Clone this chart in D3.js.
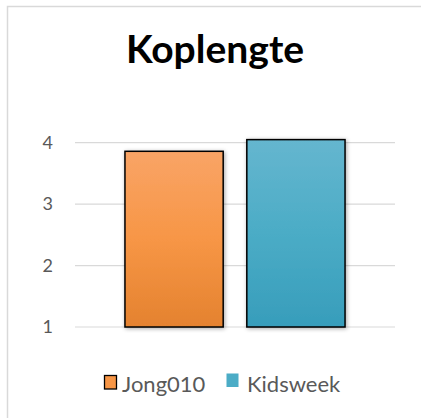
<!DOCTYPE html>
<html>
<head>
<meta charset="utf-8">
<script src="https://cdn.jsdelivr.net/npm/d3@7"></script>
<style>
  body { margin: 0; background: #fff; }
  svg { display: block; font-family: Lato, "Open Sans", sans-serif; }
</style>
</head>
<body>
<svg width="421" height="418"></svg>
<script>
// Chart data
const categories = ["Jong010", "Kidsweek"];
const values = [3.86, 4.05];
const yTicks = [1, 2, 3, 4];

const palette = [
  { top: "#f9a466", mid: "#f79646", bottom: "#e4822f" },
  { top: "#65b6cf", mid: "#4bacc6", bottom: "#379dbb" }
];

let svg = d3.select("svg");

// Chart area border (light gray, only top and left visible)
svg.append("rect")
  .attr("x", 7.5)
  .attr("y", 6.5)
  .attr("width", 440)
  .attr("height", 440)
  .attr("fill", "#fff")
  .attr("stroke", "#d9d9d9")
  .attr("stroke-width", 1.5);

let defs = svg.append("defs");

palette.forEach((p, i) => {
  let g = defs.append("linearGradient")
    .attr("id", "grad" + i)
    .attr("x1", 0).attr("y1", 0)
    .attr("x2", 0).attr("y2", 1);
  g.append("stop").attr("offset", "0%").attr("stop-color", p.top);
  g.append("stop").attr("offset", "50%").attr("stop-color", p.mid);
  g.append("stop").attr("offset", "100%").attr("stop-color", p.bottom);
});

let shadow = defs.append("filter")
  .attr("id", "shadow")
  .attr("x", "-20%").attr("y", "-20%")
  .attr("width", "140%").attr("height", "140%");
shadow.append("feGaussianBlur").attr("in", "SourceAlpha").attr("stdDeviation", 2);
shadow.append("feOffset").attr("dx", 1).attr("dy", 1).attr("result", "blur");
shadow.append("feComponentTransfer").append("feFuncA").attr("type", "linear").attr("slope", 0.35);
let merge = shadow.append("feMerge");
merge.append("feMergeNode");
merge.append("feMergeNode").attr("in", "SourceGraphic");

let margin = { left: 75, right: 26, top: 142.7, bottom: 91 };
let plotW = 421 - margin.left - margin.right;
let plotH = 418 - margin.top - margin.bottom;

let plot = svg.append("g")
  .attr("transform", `translate(${margin.left},${margin.top})`);

let yScale = d3.scaleLinear()
  .domain([1, 4])
  .range([plotH, 0]);

let xScale = d3.scaleBand()
  .domain(categories)
  .range([0, plotW])
  .paddingInner(0.194)
  .paddingOuter(0.41);

// Gridlines
plot.append("g")
  .selectAll("line")
  .data(yTicks)
  .enter()
  .append("line")
  .attr("x1", 0)
  .attr("x2", plotW)
  .attr("y1", d => yScale(d))
  .attr("y2", d => yScale(d))
  .attr("stroke", "#d9d9d9")
  .attr("stroke-width", 1.2);

// Y axis labels
let yAxis = d3.axisLeft(yScale)
  .tickValues(yTicks)
  .tickSize(0)
  .tickPadding(22)
  .tickFormat(d3.format("d"));

plot.append("g")
  .call(yAxis)
  .call(g => g.select(".domain").remove())
  .selectAll("text")
  .attr("fill", "#595959")
  .style("font-size", "18px")
  .style("font-family", "Lato, 'Open Sans', sans-serif");

// Bars
plot.selectAll("rect.bar")
  .data(values)
  .enter()
  .append("rect")
  .attr("class", "bar")
  .attr("x", (d, i) => xScale(categories[i]))
  .attr("y", d => yScale(d))
  .attr("width", xScale.bandwidth())
  .attr("height", d => yScale(1) - yScale(d))
  .attr("fill", (d, i) => `url(#grad${i})`)
  .attr("stroke", "#000")
  .attr("stroke-width", 1.5)
  .attr("filter", "url(#shadow)");

// Title
svg.append("text")
  .text("Koplengte")
  .attr("x", 215)
  .attr("y", 63)
  .attr("text-anchor", "middle")
  .attr("fill", "#000")
  .style("font-size", "39px")
  .style("font-weight", "bold");

// Legend
let legendItems = [
  { x: 104, sw: true },
  { x: 226, sw: false }
];

let legend = svg.append("g");

legend.selectAll("rect")
  .data(categories)
  .enter()
  .append("rect")
  .attr("x", (d, i) => legendItems[i].x + 0.5)
  .attr("y", (d, i) => i === 0 ? 375.5 : 373.5)
  .attr("width", 12)
  .attr("height", 13.5)
  .attr("fill", (d, i) => palette[i].mid)
  .attr("stroke", (d, i) => legendItems[i].sw ? "#000" : "none")
  .attr("stroke-width", 1.3);

legend.selectAll("text")
  .data(categories)
  .enter()
  .append("text")
  .text(d => d)
  .attr("x", (d, i) => i === 0 ? 122 : 247)
  .attr("y", 392)
  .attr("fill", "#595959")
  .style("font-size", "22px");
</script>
</body>
</html>
